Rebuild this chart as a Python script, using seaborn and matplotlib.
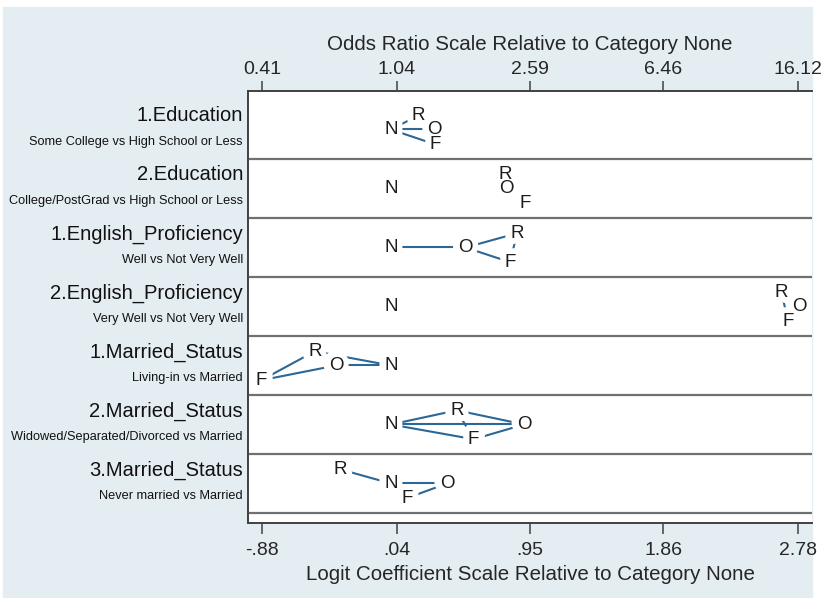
import numpy as np
import pandas as pd
import matplotlib.pyplot as plt
import matplotlib.patheffects as pe
from matplotlib.patches import Rectangle
from matplotlib.transforms import blended_transform_factory
import seaborn as sns

sns.set_style('white')
plt.rcParams['font.family'] = ['Liberation Sans', 'DejaVu Sans']

# variable / contrast labels
var_labels = ['1.Education', '2.Education', '1.English_Proficiency', '2.English_Proficiency',
              '1.Married_Status', '2.Married_Status', '3.Married_Status']
contrast_labels = ['Some College vs High School or Less',
                   'College/PostGrad vs High School or Less',
                   'Well vs Not Very Well',
                   'Very Well vs Not Very Well',
                   'Living-in vs Married',
                   'Widowed/Separated/Divorced vs Married',
                   'Never married vs Married']

# logit coefficients relative to category None (N)
coef_N = [0, 0, 0, 0, 0, 0, 0]
coef_O = [0.30, 0.79, 0.51, 2.79, -0.375, 0.91, 0.383]
coef_R = [0.19, 0.78, 0.86, 2.668, -0.52, 0.45, -0.347]
coef_F = [0.30, 0.915, 0.815, 2.712, -0.885, 0.565, 0.108]

# pairs joined by a line (not significantly different)
links = [
    [('N', 'R'), ('N', 'O'), ('N', 'F')],
    [],
    [('N', 'O'), ('O', 'R'), ('O', 'F'), ('R', 'F')],
    [('R', 'F')],
    [('F', 'R'), ('F', 'O'), ('O', 'N'), ('R', 'N')],
    [('N', 'R'), ('N', 'O'), ('N', 'F'), ('R', 'O'), ('F', 'O'), ('R', 'F')],
    [('R', 'N'), ('N', 'O'), ('F', 'O')],
]

bottom_ticks = [-0.88, 0.04, 0.95, 1.86, 2.78]
bottom_labels = ['-.88', '.04', '.95', '1.86', '2.78']
top_labels = ['0.41', '1.04', '2.59', '6.46', '16.12']

coefs = {'N': coef_N, 'O': coef_O, 'R': coef_R, 'F': coef_F}
offsets = {'N': 0.0, 'O': 0.0, 'R': -0.24, 'F': 0.25}

rows = []
for cat, vals in coefs.items():
    for k, v in enumerate(vals):
        rows.append({'cat': cat, 'row': k, 'x': v, 'y': k + offsets[cat]})
pts = pd.DataFrame(rows)

seg_rows = []
for k, pairs in enumerate(links):
    for j, (a, b) in enumerate(pairs):
        for c in (a, b):
            seg_rows.append({'seg': f'{k}-{j}', 'x': coefs[c][k], 'y': k + offsets[c]})
segs = pd.DataFrame(seg_rows)

W, H = 825, 598
fig = plt.figure(figsize=(W / 100, H / 100), dpi=100)
fig.patch.set_facecolor('white')
fig.patches.append(Rectangle((3 / W, 0), (812 - 3) / W, (598 - 7) / H,
                             transform=fig.transFigure, color='#e4edf1', zorder=-10))

ax = fig.add_axes([248 / W, 1 - 523 / H, (812 - 248) / W, (523 - 91) / H])
ax.set_facecolor('white')

sns.lineplot(data=segs, x='x', y='y', units='seg', estimator=None, sort=False,
             color='#2c6795', linewidth=1.5, ax=ax, legend=False, zorder=2)

for _, r in pts.iterrows():
    ax.text(r['x'], r['y'], r['cat'], ha='center', va='center', fontsize=13.5,
            color='white', zorder=3,
            path_effects=[pe.withStroke(linewidth=9, foreground='white')])
for _, r in pts.iterrows():
    ax.text(r['x'], r['y'], r['cat'], ha='center', va='center', fontsize=13.5,
            color='#1c1c1c', zorder=4)

for k in range(len(var_labels)):
    ax.axhline(k + 0.5, color='#707070', lw=1.6, zorder=5)

ax.set_xlim(-0.976, 2.876)
ax.set_ylim(6.67, -0.6525)
ax.set_yticks([])
ax.set_ylabel('')

trans = blended_transform_factory(ax.transAxes, ax.transData)
for k, (v, c) in enumerate(zip(var_labels, contrast_labels)):
    ax.text(-0.009, k - 0.23, v, transform=trans, ha='right', va='center',
            fontsize=14.5, color='#111111')
    ax.text(-0.009, k + 0.22, c, transform=trans, ha='right', va='center',
            fontsize=9.2, color='#111111')

ax.set_xticks(bottom_ticks)
ax.set_xticklabels(bottom_labels)
ax.tick_params(axis='x', direction='out', length=8, width=1.1, color='#404040',
               labelsize=14, pad=6, bottom=True)
ax.set_xlabel('Logit Coefficient Scale Relative to Category None', fontsize=14.8, labelpad=4)

top = ax.twiny()
top.set_xlim(ax.get_xlim())
top.set_xticks(bottom_ticks)
top.set_xticklabels(top_labels)
top.tick_params(axis='x', direction='out', length=7, width=1.1, color='#404040',
                labelsize=14, pad=2, top=True)
top.set_xlabel('Odds Ratio Scale Relative to Category None', fontsize=14.8, labelpad=8)

for a in (ax, top):
    for s in ['left', 'top', 'bottom']:
        a.spines[s].set_color('#404040')
        a.spines[s].set_linewidth(1.2)
    a.spines['right'].set_visible(False)

fig.savefig('out.png', dpi=100)
